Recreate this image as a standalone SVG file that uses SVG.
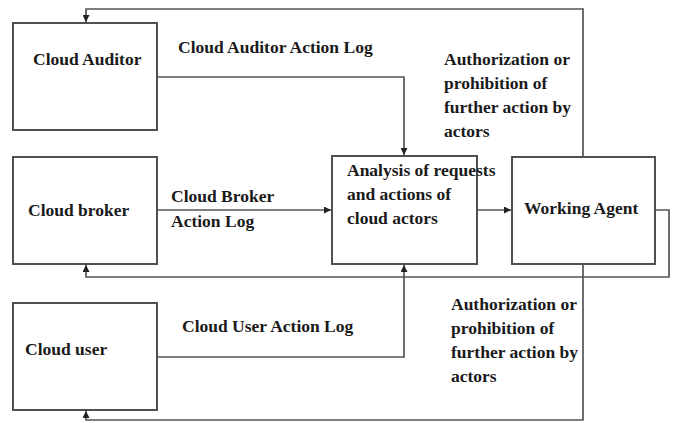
<svg xmlns="http://www.w3.org/2000/svg" width="675" height="423" viewBox="0 0 675 423">
  <defs>
    <marker id="arrow" viewBox="0 0 10 10" refX="10" refY="5" markerWidth="7" markerHeight="7" markerUnits="userSpaceOnUse" orient="auto">
      <path d="M0,0 L10,5 L0,10 z" fill="#222"/>
    </marker>
  </defs>
  <style>
    .box { fill: #ffffff; stroke: #505050; stroke-width: 2; }
    .line { fill: none; stroke: #555555; stroke-width: 1.7; }
    .arr { marker-end: url(#arrow); }
    .t { font-weight: bold; font-size: 17.5px; fill: #1a1a1a; }
  </style>
  <rect width="675" height="423" fill="#ffffff"/>

  <!-- connectors -->
  <g id="connectors">
    <!-- auditor log to analysis -->
    <path class="line arr" d="M157,77 H404 V155"/>
    <!-- broker log to analysis -->
    <path class="line arr" d="M157,210 H331"/>
    <!-- user log to analysis -->
    <path class="line arr" d="M157,357 H404 V265"/>
    <!-- analysis to working agent -->
    <path class="line arr" d="M477,210 H511"/>
    <!-- working agent feedback to auditor -->
    <path class="line arr" d="M583,156 V9 H86 V22"/>
    <!-- working agent feedback to broker -->
    <path class="line arr" d="M656,210 H669 V277 H86 V265"/>
    <!-- working agent feedback to user -->
    <path class="line arr" d="M583,265 V420 H86 V411"/>
  </g>

  <g class="t" font-family="'Liberation Serif', 'DejaVu Serif', serif">
    <g id="cloud-auditor">
      <rect class="box" x="13" y="23" width="144" height="107"/>
      <text x="33" y="65">Cloud Auditor</text>
    </g>

    <g id="cloud-broker">
      <rect class="box" x="13" y="157" width="144" height="107"/>
      <text x="28" y="216">Cloud broker</text>
    </g>

    <g id="cloud-user">
      <rect class="box" x="13" y="303" width="144" height="107"/>
      <text x="25" y="355">Cloud user</text>
    </g>

    <g id="analysis">
      <rect class="box" x="332" y="156" width="145" height="108"/>
      <text x="347" y="176">Analysis of requests</text>
      <text x="347" y="200">and actions of</text>
      <text x="347" y="224">cloud actors</text>
    </g>

    <g id="working-agent">
      <rect class="box" x="512" y="157" width="143" height="107"/>
      <text x="524" y="214">Working Agent</text>
    </g>

    <!-- connector labels -->
    <g id="labels">
      <text x="178" y="53">Cloud Auditor Action Log</text>
      <text x="171" y="202">Cloud Broker</text>
      <text x="171" y="227">Action Log</text>
      <text x="182" y="332">Cloud User Action Log</text>
      <text x="444" y="65">Authorization or</text>
      <text x="444" y="89">prohibition of</text>
      <text x="444" y="113">further action by</text>
      <text x="444" y="137">actors</text>
      <text x="451" y="310">Authorization or</text>
      <text x="451" y="334">prohibition of</text>
      <text x="451" y="358">further action by</text>
      <text x="451" y="382">actors</text>
    </g>
  </g>
</svg>
